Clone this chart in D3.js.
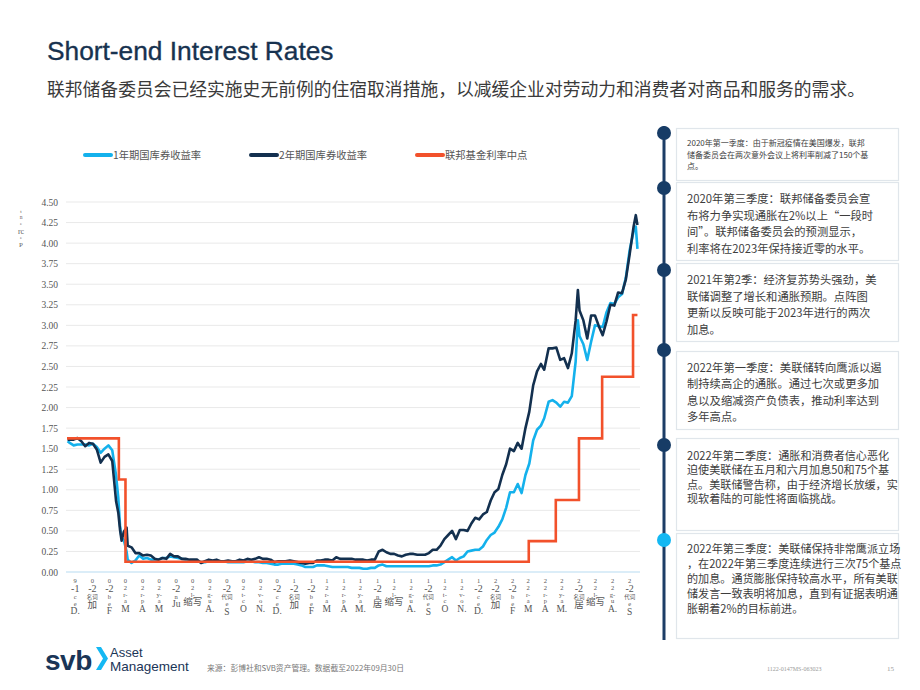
<!DOCTYPE html>
<html><head><meta charset="utf-8">
<script src="https://cdn.jsdelivr.net/npm/d3@7"></script>
<style>body{margin:0;background:#fff}svg{display:block}</style>
</head><body>
<script>
// ---------- DATA ----------
const dates = ["2019-12-02","2019-12-06","2019-12-13","2019-12-20","2019-12-27","2020-01-03","2020-01-10","2020-01-17","2020-01-24","2020-01-31","2020-02-07","2020-02-14","2020-02-21","2020-02-28","2020-03-03","2020-03-06","2020-03-09","2020-03-13","2020-03-18","2020-03-20","2020-03-27","2020-04-03","2020-04-10","2020-04-17","2020-04-24","2020-05-01","2020-05-08","2020-05-15","2020-05-22","2020-05-29","2020-06-05","2020-06-12","2020-06-19","2020-06-26","2020-07-03","2020-07-10","2020-07-17","2020-07-24","2020-07-31","2020-08-07","2020-08-14","2020-08-21","2020-08-28","2020-09-04","2020-09-11","2020-09-18","2020-09-25","2020-10-02","2020-10-09","2020-10-16","2020-10-23","2020-10-30","2020-11-06","2020-11-13","2020-11-20","2020-11-27","2020-12-04","2020-12-11","2020-12-18","2020-12-24","2020-12-31","2021-01-08","2021-01-15","2021-01-22","2021-01-29","2021-02-05","2021-02-12","2021-02-19","2021-02-26","2021-03-05","2021-03-12","2021-03-19","2021-03-26","2021-04-02","2021-04-09","2021-04-16","2021-04-23","2021-04-30","2021-05-07","2021-05-14","2021-05-21","2021-05-28","2021-06-04","2021-06-11","2021-06-18","2021-06-25","2021-07-02","2021-07-09","2021-07-16","2021-07-23","2021-07-30","2021-08-06","2021-08-13","2021-08-20","2021-08-27","2021-09-03","2021-09-10","2021-09-17","2021-09-24","2021-10-01","2021-10-08","2021-10-15","2021-10-22","2021-10-29","2021-11-05","2021-11-12","2021-11-19","2021-11-26","2021-12-03","2021-12-10","2021-12-17","2021-12-24","2021-12-31","2022-01-07","2022-01-14","2022-01-21","2022-01-28","2022-02-04","2022-02-11","2022-02-18","2022-02-25","2022-03-04","2022-03-11","2022-03-18","2022-03-25","2022-04-01","2022-04-08","2022-04-14","2022-04-22","2022-04-29","2022-05-06","2022-05-13","2022-05-20","2022-05-27","2022-06-03","2022-06-10","2022-06-14","2022-06-17","2022-06-24","2022-07-01","2022-07-08","2022-07-15","2022-07-22","2022-07-29","2022-08-05","2022-08-12","2022-08-19","2022-08-26","2022-09-02","2022-09-09","2022-09-16","2022-09-23","2022-09-27","2022-09-30"];
const yield2Y = [1.61,1.61,1.61,1.63,1.59,1.53,1.57,1.56,1.49,1.33,1.40,1.43,1.35,0.86,0.72,0.52,0.38,0.49,0.54,0.32,0.30,0.23,0.23,0.20,0.21,0.20,0.16,0.15,0.17,0.16,0.22,0.19,0.19,0.16,0.16,0.15,0.15,0.15,0.11,0.13,0.15,0.14,0.15,0.13,0.13,0.14,0.13,0.13,0.15,0.14,0.16,0.15,0.16,0.18,0.16,0.16,0.15,0.12,0.13,0.13,0.13,0.14,0.13,0.12,0.11,0.10,0.11,0.11,0.14,0.14,0.15,0.15,0.14,0.18,0.16,0.16,0.16,0.16,0.15,0.15,0.15,0.14,0.15,0.15,0.25,0.27,0.24,0.22,0.22,0.20,0.19,0.21,0.22,0.22,0.21,0.21,0.21,0.23,0.27,0.27,0.32,0.40,0.45,0.50,0.40,0.51,0.51,0.50,0.59,0.66,0.64,0.70,0.73,0.87,0.97,1.01,1.18,1.31,1.50,1.47,1.57,1.50,1.75,1.95,2.27,2.44,2.53,2.46,2.72,2.72,2.73,2.58,2.60,2.48,2.66,3.06,3.43,3.18,3.06,2.84,3.12,3.12,2.99,2.88,3.05,3.25,3.24,3.40,3.39,3.56,3.87,4.20,4.34,4.22];
const yield1Y = [1.59,1.57,1.54,1.55,1.55,1.55,1.54,1.56,1.52,1.45,1.50,1.54,1.48,1.17,0.90,0.57,0.41,0.39,0.25,0.15,0.11,0.14,0.20,0.16,0.17,0.15,0.15,0.15,0.17,0.17,0.19,0.18,0.17,0.16,0.15,0.14,0.13,0.13,0.12,0.12,0.13,0.13,0.13,0.13,0.13,0.12,0.12,0.12,0.12,0.12,0.13,0.13,0.12,0.12,0.11,0.11,0.10,0.09,0.09,0.10,0.10,0.10,0.10,0.09,0.08,0.06,0.06,0.06,0.08,0.08,0.08,0.07,0.06,0.06,0.06,0.06,0.06,0.05,0.05,0.05,0.04,0.04,0.05,0.05,0.08,0.09,0.07,0.07,0.07,0.07,0.07,0.07,0.07,0.07,0.07,0.07,0.07,0.07,0.08,0.08,0.09,0.12,0.15,0.18,0.14,0.17,0.19,0.25,0.26,0.27,0.27,0.31,0.39,0.45,0.48,0.55,0.64,0.78,0.97,0.97,1.07,0.96,1.18,1.32,1.60,1.73,1.78,1.87,2.07,2.09,2.06,2.01,2.07,2.06,2.14,2.56,3.06,2.87,2.77,2.58,2.80,3.00,2.99,2.98,3.16,3.27,3.26,3.34,3.38,3.58,3.92,4.14,4.20,3.93];
const fedDates = ["2019-12-01","2020-03-04","2020-03-16","2022-03-17","2022-05-05","2022-06-16","2022-07-28","2022-09-22","2022-09-30"];
const fedMid = [1.625,1.125,0.125,0.375,0.875,1.625,2.375,3.125,3.125];
const seriesNames = ["1年期国库券收益率","2年期国库券收益率","联邦基金利率中点"];
const yTicks = [0,0.25,0.5,0.75,1,1.25,1.5,1.75,2,2.25,2.5,2.75,3,3.25,3.5,3.75,4,4.25,4.5];
const tickMonths = ["2019-12-15","2020-01-15","2020-02-15","2020-03-15","2020-04-15","2020-05-15","2020-06-15","2020-07-15","2020-08-15","2020-09-15","2020-10-15","2020-11-15","2020-12-15","2021-01-15","2021-02-15","2021-03-15","2021-04-15","2021-05-15","2021-06-15","2021-07-15","2021-08-15","2021-09-15","2021-10-15","2021-11-15","2021-12-15","2022-01-15","2022-02-15","2022-03-15","2022-04-15","2022-05-15","2022-06-15","2022-07-15","2022-08-15","2022-09-15"];
const tickLabels = ["9|-1|c|e|D.","0|-2|名词|加","0|-2|b|e|F","0|2|r-|a|M","0|2|r-|p|A","0|2|y-|a|M","0|-2|n|Ju","0|2|l-|缩写","0|2|g-|u|A.","0|-2|代词|e|S","0|2|t-|c|O","0|2|v-|o|N.","0|-2|c|e|D.","1|-2|名词|加","1|-2|b|e|F","1|2|r-|a|M","1|2|r-|p|A","1|2|y-|a|M.","1|-2|n|居","1|2|l-|缩写","1|2|g-|u|A.","1|-2|代词|e|S","1|2|t-|c|O","1|2|v-|o|N.","1|-2|c|e|D.","2|-2|名词|加","2|-2|b|e|F","2|2|r-|a|M","2|2|r-|p|A","2|2|y-|a|M.","2|-2|名词|居","2|2|l-|缩写","2|2|g-|u|A.","2|-2|代词|e|S"];
const yAxisLabel = ["t","n","e","rc","e","P"];
const titleText = "Short-end Interest Rates";
const subtitleText = "联邦储备委员会已经实施史无前例的住宿取消措施，以减缓企业对劳动力和消费者对商品和服务的需求。";
const notes = [
  ["2020年第一季度：由于新冠疫情在美国爆发，联邦","储备委员会在两次意外会议上将利率削减了150个基","点。"],
  ["2020年第三季度：联邦储备委员会宣","布将力争实现通胀在2%以上“一段时","间”。联邦储备委员会的预测显示，","利率将在2023年保持接近零的水平。"],
  ["2021年第2季：经济复苏势头强劲，美","联储调整了增长和通胀预期。点阵图","更新以反映可能于2023年进行的两次","加息。"],
  ["2022年第一季度：美联储转向鹰派以遏","制持续高企的通胀。通过七次或更多加","息以及缩减资产负债表，推动利率达到","多年高点。"],
  ["2022年第二季度：通胀和消费者信心恶化","迫使美联储在五月和六月加息50和75个基","点。美联储警告称，由于经济增长放缓，实","现软着陆的可能性将面临挑战。"],
  ["2022年第三季度：美联储保持非常鹰派立场","，在2022年第三季度连续进行三次75个基点","的加息。通货膨胀保持较高水平，所有美联","储发言一致表明将加息，直到有证据表明通","胀朝着2%的目标前进。"]
];
const sourceText = "来源：彭博社和SVB资产管理。数据截至2022年09月30日";
const docCode = "1122-0147MS-063023";
const pageNum = "15";

// ---------- LAYOUT ----------
const W = 920, H = 690;
const colors = ["#14b1ec","#13304f","#f2512b"];
const cjk = "'Noto Sans CJK SC','Noto Sans',sans-serif";
const parse = d3.timeParse("%Y-%m-%d");

const svg = d3.select("body").append("svg").attr("width", W).attr("height", H);

svg.append("text").attr("x", 47).attr("y", 60).text(titleText)
  .attr("font-family", "'Liberation Sans',Arial,sans-serif").attr("font-size", 26.3)
  .attr("fill", "#17324f").attr("stroke", "#17324f").attr("stroke-width", 0.35);
svg.append("text").attr("x", 47).attr("y", 96).text(subtitleText)
  .attr("font-family", cjk).attr("font-size", 17.8).attr("fill", "#3a3a3a");

const x = d3.scaleTime().domain([parse("2019-12-01"), parse("2022-10-01")]).range([67, 638]);
const y = d3.scaleLinear().domain([0, 4.5]).range([572, 202]);

// gridlines
svg.append("g").selectAll("line").data(yTicks.filter(d => d > 0)).join("line")
  .attr("x1", 66).attr("x2", 640).attr("y1", d => y(d)).attr("y2", d => y(d))
  .attr("stroke", "#e9e9e9").attr("stroke-width", 1);

// y axis
const yAxis = svg.append("g").attr("transform", "translate(58,0)")
  .call(d3.axisLeft(y).tickValues(yTicks).tickSize(0).tickPadding(0).tickFormat(d3.format(".2f")));
yAxis.select(".domain").remove();
yAxis.selectAll("text").attr("font-family", "'Liberation Serif','Times New Roman',serif")
  .attr("font-size", 9.5).attr("fill", "#555");

// y axis label (stacked)
const yl = svg.append("text").attr("font-family", "'Liberation Serif',serif").attr("fill", "#666").attr("text-anchor", "middle");
const ylSizes = [5, 5.5, 5, 8, 5, 7];
let yy = 213;
yAxisLabel.forEach((t, i) => {
  yl.append("tspan").attr("x", 21).attr("y", yy).attr("font-size", ylSizes[i]).text(t);
  yy += (ylSizes[i + 1] || 0) * 0.95 + 1;
});

// baseline
svg.append("line").attr("x1", 66).attr("x2", 640).attr("y1", y(0)).attr("y2", y(0))
  .attr("stroke", "#cfe7f6").attr("stroke-width", 1.5);

// x axis with stacked labels
const xAxis = svg.append("g").attr("transform", `translate(0,${y(0)})`)
  .call(d3.axisBottom(x).tickValues(tickMonths.map(parse)).tickSize(0).tickFormat(""));
xAxis.select(".domain").remove();
xAxis.selectAll(".tick text").remove();
function tokSize(t, i, n) {
  if (t === "-1" || t === "-2") return 10;
  if (i === n - 1) return 9.5;
  if (t === "名词" || t === "代词") return 5.5;
  return 6.5;
}
function tokAdv(t, s) {
  if (t === "名词" || t === "代词") return s * 1.35;
  return s >= 9 ? s * 0.9 : s * 1.05;
}
xAxis.selectAll(".tick").each(function(d, k) {
  const toks = tickLabels[k].split("|");
  const t = d3.select(this).append("text").attr("fill", "#555").attr("text-anchor", "middle")
    .attr("font-family", "'Liberation Serif','Noto Sans CJK SC',serif");
  let by = 11;
  toks.forEach((tk, i) => {
    const s = tokSize(tk, i, toks.length);
    if (i > 0) by += tokAdv(tk, s);
    t.append("tspan").attr("x", 0).attr("y", by).attr("font-size", s).text(tk);
  });
});

// lines
const line = d3.line().x(d => x(d[0])).y(d => y(d[1]));
const dts = dates.map(parse);
svg.append("path").datum(dts.map((d, i) => [d, yield1Y[i]])).attr("d", line)
  .attr("fill", "none").attr("stroke", colors[0]).attr("stroke-width", 2.6).attr("stroke-linejoin", "round");
svg.append("path").datum(dts.map((d, i) => [d, yield2Y[i]])).attr("d", line)
  .attr("fill", "none").attr("stroke", colors[1]).attr("stroke-width", 2.6).attr("stroke-linejoin", "round");
const stepLine = d3.line().x(d => x(d[0])).y(d => y(d[1])).curve(d3.curveStepAfter);
svg.append("path").datum(fedDates.map((d, i) => [parse(d), fedMid[i]])).attr("d", stepLine)
  .attr("fill", "none").attr("stroke", colors[2]).attr("stroke-width", 2.6);

// legend
const legX = [85, 251, 417];
seriesNames.forEach((n, i) => {
  svg.append("line").attr("x1", legX[i]).attr("x2", legX[i] + 26).attr("y1", 155).attr("y2", 155)
    .attr("stroke", colors[i]).attr("stroke-width", 4).attr("stroke-linecap", "round");
  svg.append("text").attr("x", legX[i] + 28).attr("y", 159).text(n)
    .attr("font-family", cjk).attr("font-size", 10.3).attr("fill", "#555");
});

// right timeline panel
const boxes = [
  {y: 128, h: 52, fs: 8, base: 146, lh: 11.5},
  {y: 182, h: 78, fs: 11.3, base: 203, lh: 16.5},
  {y: 263, h: 78, fs: 11.3, base: 284, lh: 16.6},
  {y: 351, h: 78, fs: 11.3, base: 371.5, lh: 16.5},
  {y: 438, h: 92, fs: 11.1, base: 459.5, lh: 14.5},
  {y: 533, h: 105, fs: 11.1, base: 552.5, lh: 15.2}
];
const dotY = [133, 188, 270, 350, 445, 540];
svg.append("line").attr("x1", 664).attr("x2", 664).attr("y1", 126).attr("y2", 640)
  .attr("stroke", "#1c3d66").attr("stroke-width", 3);
boxes.forEach((b, i) => {
  svg.append("rect").attr("x", 676.5).attr("y", b.y + 0.5).attr("width", 222).attr("height", b.h)
    .attr("fill", "#fff").attr("stroke", "#e0e6eb").attr("stroke-width", 1.2);
  notes[i].forEach((ln, j) => {
    svg.append("text").attr("x", 687).attr("y", b.base + j * b.lh).text(ln)
      .attr("font-family", cjk).attr("font-size", b.fs).attr("fill", "#3d3d3d");
  });
  svg.append("circle").attr("cx", 664).attr("cy", dotY[i]).attr("r", 7)
    .attr("fill", i === 5 ? "#14b8f3" : "#173c66");
});

// footer
svg.append("text").attr("x", 45).attr("y", 670).text("svb")
  .attr("font-family", "'Liberation Sans',Arial,sans-serif").attr("font-weight", "bold")
  .attr("font-size", 28).attr("fill", "#1a3557").attr("letter-spacing", -0.5);
svg.append("path").attr("d", "M96,647 L101,647 L108,658.5 L101,670 L96,670 L103,658.5 Z").attr("fill", "#14b8f3");
svg.append("text").attr("x", 110).attr("y", 656.5).text("Asset")
  .attr("font-family", "'Liberation Sans',Arial,sans-serif").attr("font-size", 13).attr("fill", "#1a3557");
svg.append("text").attr("x", 110).attr("y", 671).text("Management")
  .attr("font-family", "'Liberation Sans',Arial,sans-serif").attr("font-size", 13.5).attr("fill", "#1a3557");
svg.append("text").attr("x", 207).attr("y", 671).text(sourceText)
  .attr("font-family", cjk).attr("font-size", 7.8).attr("fill", "#777");
svg.append("text").attr("x", 767).attr("y", 671).text(docCode)
  .attr("font-family", "'Liberation Serif',serif").attr("font-size", 6).attr("fill", "#999");
svg.append("text").attr("x", 887).attr("y", 671).text(pageNum)
  .attr("font-family", "'Liberation Serif',serif").attr("font-size", 7).attr("fill", "#999");
</script>
</body></html>
